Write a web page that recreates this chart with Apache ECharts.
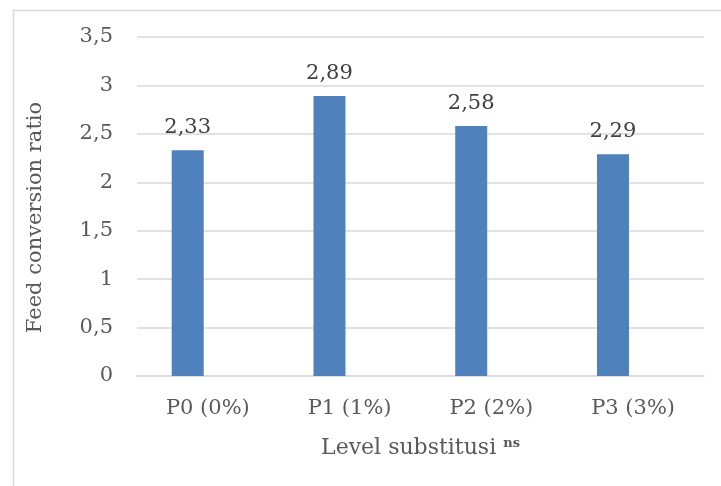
<!DOCTYPE html>
<html>
<head>
<meta charset="utf-8">
<script src="https://cdn.jsdelivr.net/npm/echarts@6/dist/echarts.min.js"></script>
<style>html,body{margin:0;padding:0;background:#fff;}#c{width:721px;height:486px;}</style>
</head>
<body>
<div id="c"></div>
<script>
var categories = ['P0 (0%)', 'P1 (1%)', 'P2 (2%)', 'P3 (3%)'];
var fcrValues = [2.33, 2.89, 2.58, 2.29];
var emptySeries = [null, null, null, null];
var yTicks = [0, 0.5, 1, 1.5, 2, 2.5, 3, 3.5];

var FONT = 'DejaVu Serif';
var TXT = '#595959';
function comma(v) { return String(v).replace('.', ','); }

var chart = echarts.init(document.getElementById('c'), null, {renderer: 'canvas'});
chart.setOption({
  animation: false,
  backgroundColor: '#fff',
  graphic: [{
    type: 'rect', left: 11, top: 8, z: -10,
    shape: {x: 0, y: 0, width: 800, height: 600},
    style: {fill: 'none', stroke: '#D9D9D9', lineWidth: 1.5}
  }],
  grid: {left: 137, right: 17, top: 37, bottom: 110, containLabel: false},
  xAxis: {
    type: 'category',
    data: categories,
    axisLine: {show: true, lineStyle: {color: '#D9D9D9', width: 1.5}},
    axisTick: {show: false},
    axisLabel: {fontFamily: FONT, fontSize: 21, color: TXT, margin: 22},
    name: '{a|Level substitusi }{b|ns}',
    nameLocation: 'middle',
    nameGap: 57,
    nameTextStyle: {
      rich: {
        a: {fontFamily: FONT, fontSize: 22, color: TXT, verticalAlign: 'bottom', lineHeight: 26},
        b: {fontFamily: FONT, fontSize: 13, fontWeight: 'bold', color: TXT, verticalAlign: 'top', lineHeight: 26, padding: [4, 0, 0, 0]}
      }
    }
  },
  yAxis: {
    type: 'value',
    min: yTicks[0],
    max: yTicks[yTicks.length - 1],
    interval: 0.5,
    axisLine: {show: false},
    axisTick: {show: false},
    splitLine: {lineStyle: {color: '#D9D9D9', width: 1.5}},
    axisLabel: {fontFamily: FONT, fontSize: 21, color: TXT, margin: 24, formatter: comma},
    name: 'Feed conversion ratio',
    nameLocation: 'middle',
    nameGap: 91,
    nameTextStyle: {fontFamily: FONT, fontSize: 21, color: TXT, padding: [0, 22, 0, 0]}
  },
  series: [{
    type: 'bar',
    data: fcrValues,
    barWidth: 32,
    barGap: '26%',
    itemStyle: {color: '#4F81BD'},
    label: {
      show: true, position: 'top', distance: 12,
      fontFamily: FONT, fontSize: 21, color: '#404040',
      formatter: function (p) { return comma(p.value); }
    }
  }, {
    type: 'bar',
    data: emptySeries,
    barWidth: 32,
    itemStyle: {color: '#C0504D'}
  }]
});
</script>
</body>
</html>
